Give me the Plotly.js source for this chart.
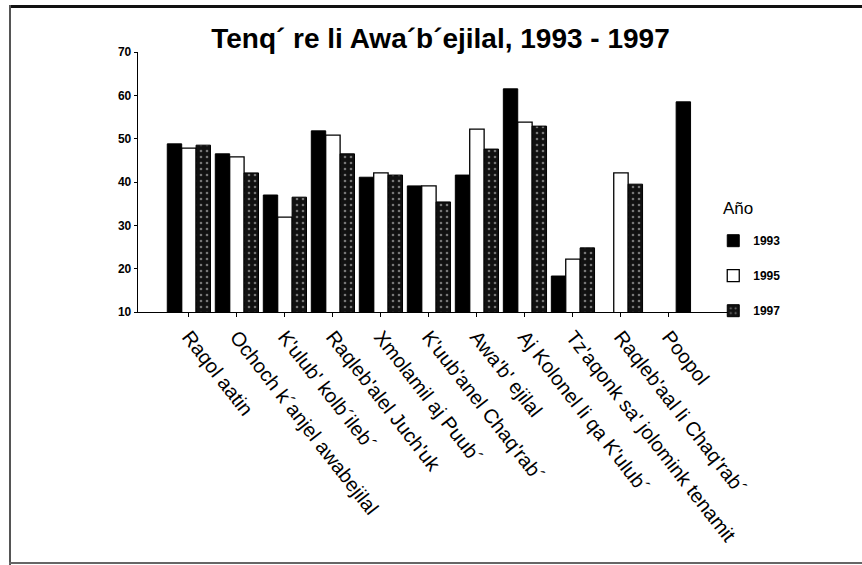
<!DOCTYPE html>
<html>
<head>
<meta charset="utf-8">
<script src="https://cdn.plot.ly/plotly-3.0.1.min.js"></script>
<style>
  html, body { margin: 0; padding: 0; background: #fff; }
  #wrap { position: relative; width: 862px; height: 565px; overflow: hidden; }
  #chart { position: absolute; left: 0; top: 0; width: 862px; height: 565px; }
  .bt { position: absolute; left: 9px; top: 5px; width: 853px; height: 3px; background: #111; }
  .bl { position: absolute; left: 9px; top: 5px; width: 2px; height: 560px; background: #555; }
  .bb { position: absolute; left: 9px; top: 562px; width: 853px; height: 2px; background: #666; }
</style>
</head>
<body>
<div id="wrap">
  <div id="chart"></div>
  <div class="bt"></div><div class="bl"></div><div class="bb"></div>
</div>
<script>
const categories = [
  "Raqol aatin",
  "Ochoch k´anjel awabejilal",
  "K'ulub' kolb´ileb´",
  "Raqleb'alel Juch'uk",
  "Xmolamil aj Puub´",
  "K'uub'anel Chaq'rab´",
  "Awa'b' ejilal",
  "Aj Kolonel li qa K'ulub´",
  "Tz'aqonk sa' jolomink tenamit",
  "Raqleb'aal li Chaq'rab´",
  "Poopol"
];
const seriesNames = ["1993", "1995", "1997"];
const values1993 = [48.8, 46.5, 37.0, 51.8, 41.1, 39.1, 41.6, 61.5, 18.3, null, 58.5];
const values1995 = [47.8, 45.8, 31.9, 50.8, 42.1, 39.1, 52.2, 53.8, 22.2, 42.1, null];
const values1997 = [48.5, 42.1, 36.5, 46.5, 41.6, 35.4, 47.6, 52.9, 24.8, 39.5, null];
const yTicks = [10, 20, 30, 40, 50, 60, 70];
const legendTitle = "Año";

const W = 0.3;
// the lone 1993 bar of the last category sits in the right-hand slot in the original
const off1993 = categories.map((c, i) => (values1995[i] == null && values1997[i] == null) ? 0.15 : -0.45);

const legendFont = {family: "Liberation Sans Narrow, Liberation Sans, Arial", size: 12, color: "#000", weight: "bold"};

const traces = [
  {type: "bar", name: seriesNames[0], x: categories, y: values1993, width: W, offset: off1993,
   marker: {color: "#000", line: {color: "#000", width: 1}}, legendgroup: "a"},
  {type: "bar", name: seriesNames[1], x: categories, y: values1995, width: W, offset: -0.15,
   marker: {color: "#fff", line: {color: "#000", width: 1.3}}, legendgroup: "b"},
  {type: "bar", name: seriesNames[2], x: categories, y: values1997, width: W, offset: 0.15,
   marker: {color: "#111", line: {color: "#000", width: 1},
            pattern: {shape: ".", fgcolor: "#777", bgcolor: "#111", size: 6, solidity: 0.15}},
   legendgroup: "c"}
];

const layout = {
  width: 862, height: 565,
  margin: {l: 138, r: 134, t: 52, b: 253},
  paper_bgcolor: "rgba(0,0,0,0)", plot_bgcolor: "#fff",
  barmode: "overlay",
  showlegend: true,
  title: {text: "Tenq´ re li Awa´b´ejilal, 1993 - 1997", x: 0.511, xanchor: "center", y: 0.933, yanchor: "middle",
          font: {family: "Liberation Sans, Arial", size: 28, color: "#000", weight: "bold"}},
  xaxis: {type: "category", range: [-1.06, 11.23], showline: true, linecolor: "#000", linewidth: 1.3,
          ticks: "outside", ticklen: 4, tickcolor: "#000", tickangle: 52, showgrid: false, zeroline: false,
          tickfont: {family: "Liberation Sans, Arial", size: 20, color: "#000"}},
  yaxis: {range: [10, 70], tickvals: yTicks, showline: true, linecolor: "#000", linewidth: 1.3,
          ticks: "outside", ticklen: 3, tickcolor: "#000", showgrid: false, zeroline: false,
          tickfont: {family: "Liberation Sans Narrow, Liberation Sans, Arial", size: 12, color: "#000", weight: "bold"}},
  legend: {x: 0.975, xanchor: "left", y: 0.33, yanchor: "top", bgcolor: "rgba(0,0,0,0)",
           font: legendFont, traceorder: "grouped", tracegroupgap: 16},
  annotations: [{text: legendTitle, xref: "paper", yref: "paper", x: 0.988, xanchor: "left", y: 0.4, yanchor: "middle",
                 showarrow: false, font: {family: "Liberation Sans, Arial", size: 17, color: "#000"}}]
};

Plotly.newPlot("chart", traces, layout, {displayModeBar: false, staticPlot: true});
</script>
</body>
</html>
